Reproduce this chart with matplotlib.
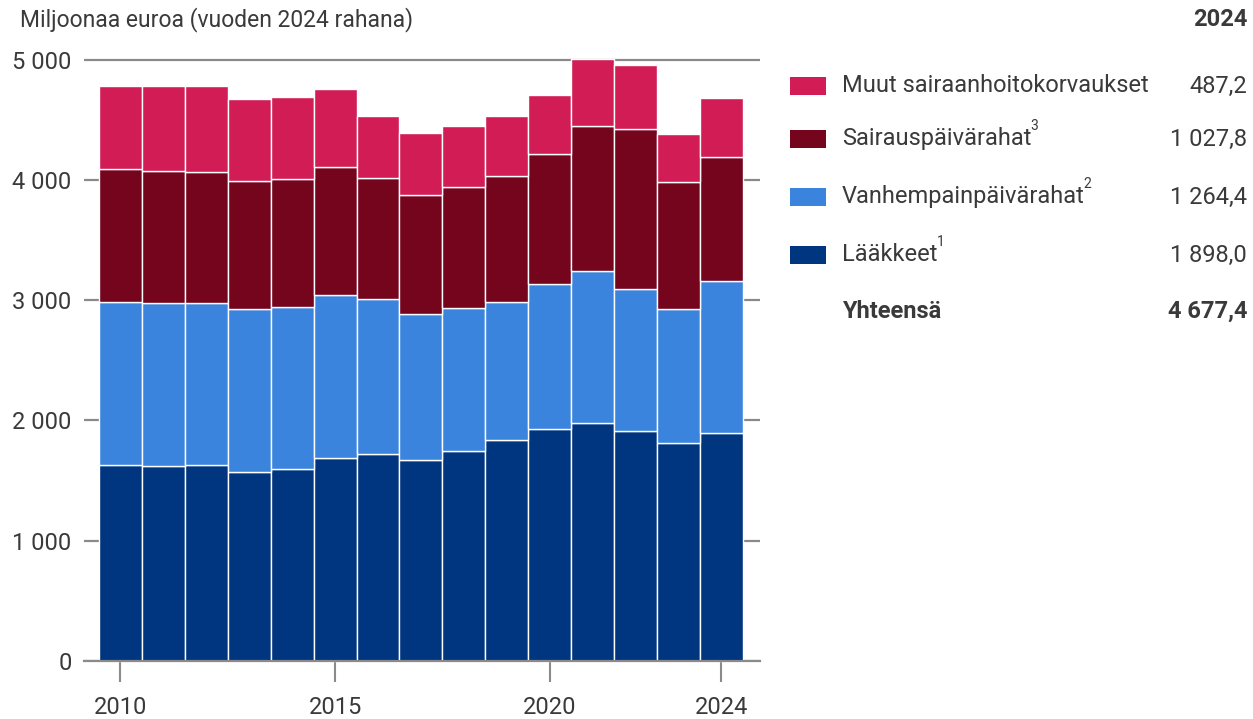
import matplotlib
matplotlib.use("Agg")
import matplotlib.pyplot as plt
from matplotlib.patches import Rectangle
import numpy as np

# Data (miljoonaa euroa, vuoden 2024 rahana)
vuodet = list(range(2010, 2025))
laakkeet = [1627, 1623, 1627, 1567, 1592, 1684, 1719, 1673, 1746, 1834, 1931, 1975, 1909, 1816, 1898.0]
vanhempain = [1357, 1353, 1349, 1359, 1351, 1361, 1293, 1214, 1188, 1153, 1206, 1270, 1186, 1113, 1264.4]
sairaus = [1109, 1101, 1087, 1062, 1064, 1065, 1001, 984, 1009, 1042, 1075, 1206, 1331, 1056, 1027.8]
muut = [685, 707, 718, 685, 685, 646, 519, 516, 508, 503, 491, 552, 530, 397, 487.2]

sarjat = ["Lääkkeet", "Vanhempainpäivärahat", "Sairauspäivärahat", "Muut sairaanhoitokorvaukset"]
alaviitteet = ["1", "2", "3", ""]
varit = ["#00357f", "#3b84de", "#75051d", "#d11c55"]
y_ticks = [0, 1000, 2000, 3000, 4000, 5000]
x_ticks = [2010, 2015, 2020, 2024]

plt.rcParams['font.family'] = ['Roboto', 'DejaVu Sans']
txt = "#3a3a3a"
W, H = 1253, 719


def fx(x):
    return x / W


def fy(y):
    return 1 - y / H


def fmt(v, dec=0):
    s = f"{v:,.{dec}f}"
    return s.replace(",", " ").replace(".", ",")


fig = plt.figure(figsize=(12.53, 7.19), dpi=100)
ax = fig.add_axes([fx(84), fy(661), fx(760) - fx(84), (661 - 47.5) / H])

x = np.array(vuodet)
data = [laakkeet, vanhempain, sairaus, muut]
pohja = np.zeros(len(x))
for arvot, vari in zip(data, varit):
    ax.bar(x, arvot, bottom=pohja, width=1.0, color=vari, edgecolor="white",
           linewidth=1.0, zorder=2, clip_on=False)
    pohja += np.array(arvot)

ax.set_xlim(2010 - 0.85, 2024 + 0.9)
ax.set_ylim(0, 5100)
ax.set_yticks(y_ticks)
ax.set_yticklabels([fmt(v) for v in y_ticks])
ax.yaxis.grid(True, color="#8a8a8a", linewidth=1.6, zorder=0)
ax.set_axisbelow(True)
ax.tick_params(axis="y", length=0, pad=9, labelsize=17, labelcolor=txt)
ax.set_xticks(x_ticks)
ax.tick_params(axis="x", length=15, width=1.5, color="#8a8a8a", pad=10,
               labelsize=17, labelcolor=txt)
for s in ["top", "right", "left"]:
    ax.spines[s].set_visible(False)
ax.spines["bottom"].set_color("#8a8a8a")
ax.spines["bottom"].set_linewidth(1.6)

fig.text(fx(20), fy(20), "Miljoonaa euroa (vuoden 2024 rahana)", fontsize=16.5,
         color=txt, va="center", ha="left")
fig.text(fx(1247), fy(20), "2024", fontsize=17, color=txt, fontweight="bold",
         va="center", ha="right")

# Legend with 2024 values
rivit_y = [86, 139, 197, 255]
legend_data = list(zip(sarjat, alaviitteet, varit, [v[-1] for v in data]))[::-1]
fig.canvas.draw()
renderer = fig.canvas.get_renderer()
for (nimi, viite, vari, arvo), yy in zip(legend_data, rivit_y):
    fig.patches.append(Rectangle((fx(790), fy(yy + 9)), fx(36), 18 / H,
                                 transform=fig.transFigure, facecolor=vari,
                                 edgecolor="none"))
    t = fig.text(fx(842), fy(yy), nimi, fontsize=17, color=txt, va="center", ha="left")
    if viite:
        bb = t.get_window_extent(renderer)
        fig.text(fx(bb.x1 - 1), fy(yy - 13), viite, fontsize=10, color=txt,
                 va="center", ha="left")
    fig.text(fx(1247), fy(yy), fmt(arvo, 1), fontsize=17, color=txt,
             va="center", ha="right")

yhteensa = sum(v[-1] for v in data)
fig.text(fx(842), fy(311), "Yhteensä", fontsize=17, color=txt, fontweight="bold",
         va="center", ha="left")
fig.text(fx(1247), fy(311), fmt(yhteensa, 1), fontsize=17, color=txt,
         fontweight="bold", va="center", ha="right")

fig.savefig("out.png", dpi=100)
